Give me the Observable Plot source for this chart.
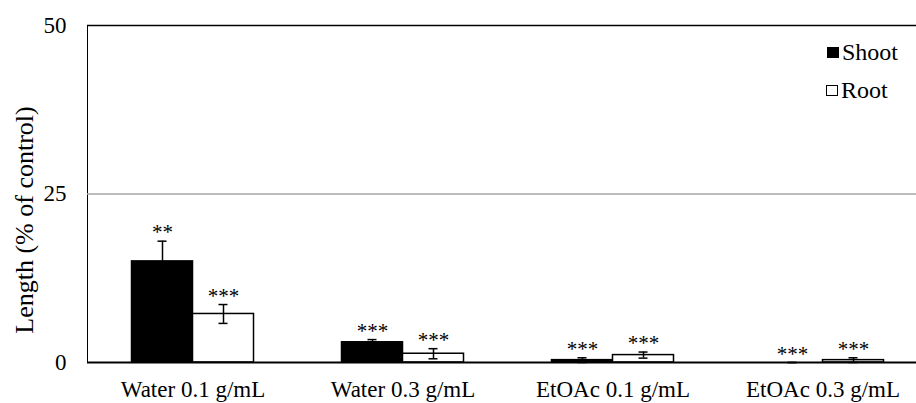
<!DOCTYPE html>
<html>
<head>
<meta charset="utf-8">
<script src="https://cdn.jsdelivr.net/npm/d3@7"></script>
<script src="https://cdn.jsdelivr.net/npm/@observablehq/plot@0.6"></script>
<style>
  html, body { margin: 0; padding: 0; background: #fff; overflow: hidden; }
  #wrap { position: relative; width: 916px; height: 403px; overflow: hidden; }
  .legend { position: absolute; font-family: "Liberation Serif", "Times New Roman", serif; font-size: 24px; color: #000; display: flex; align-items: center; line-height: 1; }
  .sw { width: 12px; height: 11px; box-sizing: border-box; margin-right: 3px; }
  svg text { font-family: "Liberation Serif", "Times New Roman", serif; }
</style>
</head>
<body>
<div id="wrap"></div>
<script>
const categories = ["Water 0.1 g/mL", "Water 0.3 g/mL", "EtOAc 0.1 g/mL", "EtOAc 0.3 g/mL"];
const seriesNames = ["Shoot", "Root"];
const shootMean = [15.0, 3.0, 0.35, 0.0];
const shootErr  = [3.0, 0.4, 0.35, 0.0];
const rootMean  = [7.2, 1.3, 1.1, 0.35];
const rootErr   = [1.4, 0.75, 0.45, 0.35];
const shootSig  = ["**", "***", "***", "***"];
const rootSig   = ["***", "***", "***", "***"];
const yTicks = [0, 25, 50];
const yLabel = "Length (% of control)";

const shoot = categories.map((c, i) => ({cat: c, v: shootMean[i], e: shootErr[i], s: shootSig[i]}));
const root  = categories.map((c, i) => ({cat: c, v: rootMean[i], e: rootErr[i], s: rootSig[i]}));

const half = 30.5;
const font = '"Liberation Serif", "Times New Roman", serif';

function seriesMarks(data, dx, fill) {
  return [
    Plot.barY(data, {x: "cat", y: "v", dx, fill, stroke: "#000", strokeWidth: 1.5}),
    Plot.ruleX(data, {x: "cat", y1: d => d.v - d.e, y2: d => d.v + d.e, dx, stroke: "#000", strokeWidth: 1.5}),
    Plot.tickY(data, {x: "cat", y: d => d.v + d.e, dx, insetLeft: 26, insetRight: 26, stroke: "#000", strokeWidth: 1.5}),
    Plot.tickY(data, {x: "cat", y: d => Math.max(0, d.v - d.e), dx, insetLeft: 26, insetRight: 26, stroke: "#000", strokeWidth: 1.5}),
    Plot.text(data, {x: "cat", y: d => d.v + d.e, text: "s", dx, dy: -2, lineAnchor: "bottom", fontSize: 21, fill: "#000"})
  ];
}

const chart = Plot.plot({
  width: 916,
  height: 403,
  marginLeft: 87,
  marginRight: -12,
  marginTop: 25,
  marginBottom: 41,
  style: {fontFamily: font, fontSize: "23px", color: "#000", background: "transparent", overflow: "visible"},
  x: {type: "band", domain: categories, paddingInner: 0.7095, paddingOuter: 0.355, align: 0.5,
      tickSize: 0, tickPadding: 18, label: null},
  y: {domain: [0, 50], ticks: yTicks, tickSize: 0, tickPadding: 21, label: null, line: true},
  marks: [
    Plot.ruleY([25], {stroke: "#a6a6a6", strokeWidth: 1.5}),
    Plot.ruleY([50], {stroke: "#000", strokeWidth: 1.5}),
    ...seriesMarks(shoot, -half, "#000"),
    ...seriesMarks(root, half, "#fff"),
    Plot.ruleY([0], {stroke: "#000", strokeWidth: 2}),
    Plot.text([yLabel], {frameAnchor: "left", textAnchor: "middle", lineAnchor: "middle", rotate: -90, dx: -63, dy: 26, fontSize: 26, fill: "#000"})
  ]
});

const wrap = document.getElementById("wrap");
wrap.appendChild(chart);
chart.querySelectorAll("text").forEach(t => t.setAttribute("fill", "#000"));

const legendItems = [
  {name: seriesNames[0], left: 827, top: 40, fill: "#000", border: "1px solid #000"},
  {name: seriesNames[1], left: 826, top: 78, fill: "#fff", border: "1px solid #000"}
];
legendItems.forEach(it => {
  const d = document.createElement("div");
  d.className = "legend";
  d.style.left = it.left + "px";
  d.style.top = it.top + "px";
  const sw = document.createElement("div");
  sw.className = "sw";
  sw.style.background = it.fill;
  sw.style.border = it.border;
  d.appendChild(sw);
  const s = document.createElement("span");
  s.textContent = it.name;
  d.appendChild(s);
  wrap.appendChild(d);
});
</script>
</body>
</html>
